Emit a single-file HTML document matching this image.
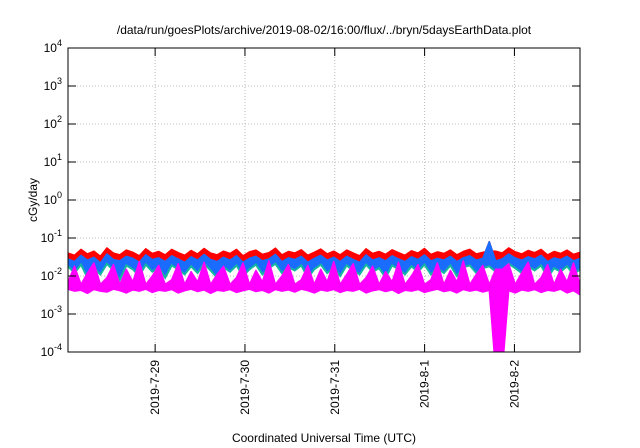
<!DOCTYPE html>
<html><head><meta charset="utf-8"><style>
body{margin:0;background:#fff}
svg{display:block;font-family:"Liberation Sans",sans-serif}
</style></head><body>
<svg id="chart" width="640" height="448" viewBox="0 0 640 448">
<rect x="0" y="0" width="640" height="448" fill="#fff"/>
<text x="324" y="34" font-size="12" text-anchor="middle">/data/run/goesPlots/archive/2019-08-02/16:00/flux/../bryn/5daysEarthData.plot</text>
<text transform="translate(37,200) rotate(-90)" font-size="12" text-anchor="middle">cGy/day</text>
<text x="324" y="442" font-size="12" text-anchor="middle">Coordinated Universal Time (UTC)</text>
<defs><clipPath id="pc"><rect x="68" y="48" width="512" height="304"/></clipPath></defs>
<g id="grid"></g><g id="series" clip-path="url(#pc)"></g><g id="axes"></g>
</svg>
<script>
const yTickExps=[-4,-3,-2,-1,0,1,2,3,4];
const xTickLabels=["2019-7-29","2019-7-30","2019-7-31","2019-8-1","2019-8-2"];
const xTickDays=[1,2,3,4,5];
const xStartDay=0.03, xEndDay=5.73;
const red=[0.040,0.035,0.050,0.038,0.045,0.033,0.055,0.040,0.036,0.048,0.042,0.034,0.052,0.039,0.044,0.036,0.050,0.041,0.035,0.047,0.038,0.053,0.040,0.036,0.045,0.039,0.050,0.034,0.043,0.048,0.037,0.041,0.054,0.036,0.044,0.040,0.049,0.035,0.042,0.051,0.038,0.045,0.036,0.048,0.040,0.034,0.052,0.039,0.044,0.037,0.049,0.041,0.035,0.046,0.040,0.053,0.037,0.043,0.039,0.048,0.036,0.044,0.050,0.038,0.042,0.046,0.045,0.040,0.055,0.043,0.038,0.047,0.041,0.050,0.036,0.044,0.039,0.048,0.037,0.042];
const blue=[0.028,0.024,0.035,0.026,0.031,0.022,0.038,0.027,0.025,0.033,0.029,0.023,0.036,0.027,0.030,0.024,0.034,0.028,0.023,0.032,0.026,0.037,0.027,0.024,0.031,0.026,0.034,0.023,0.029,0.033,0.025,0.028,0.037,0.024,0.030,0.027,0.033,0.023,0.029,0.035,0.026,0.031,0.024,0.033,0.027,0.023,0.036,0.026,0.030,0.025,0.034,0.028,0.024,0.032,0.027,0.036,0.025,0.029,0.026,0.033,0.024,0.030,0.034,0.026,0.029,0.080,0.025,0.028,0.038,0.030,0.026,0.032,0.028,0.035,0.024,0.030,0.027,0.033,0.025,0.029];
const teal=[0.018,0.012,0.020,0.009,0.016,0.011,0.021,0.014,0.008,0.019,0.015,0.010,0.020,0.013,0.017,0.009,0.019,0.015,0.011,0.018,0.012,0.021,0.014,0.009,0.017,0.013,0.019,0.010,0.015,0.020,0.011,0.016,0.021,0.012,0.017,0.014,0.019,0.009,0.015,0.020,0.012,0.017,0.010,0.019,0.014,0.011,0.020,0.013,0.016,0.009,0.019,0.015,0.011,0.018,0.013,0.020,0.011,0.016,0.012,0.019,0.010,0.017,0.019,0.012,0.016,0.018,0.013,0.014,0.021,0.016,0.012,0.018,0.014,0.019,0.009,0.016,0.013,0.018,0.011,0.015];
const magenta=[0.007,0.018,0.006,0.012,0.022,0.006,0.009,0.020,0.006,0.015,0.007,0.024,0.006,0.010,0.019,0.006,0.008,0.021,0.006,0.013,0.007,0.023,0.006,0.011,0.018,0.006,0.009,0.022,0.006,0.014,0.007,0.025,0.006,0.010,0.020,0.006,0.008,0.019,0.006,0.015,0.007,0.024,0.006,0.011,0.021,0.006,0.009,0.018,0.006,0.013,0.007,0.023,0.006,0.010,0.020,0.006,0.008,0.022,0.006,0.014,0.007,0.025,0.006,0.011,0.019,0.006,0.0001,0.0001,0.021,0.006,0.012,0.023,0.006,0.009,0.020,0.006,0.015,0.007,0.022,0.006];
const magentaLow=[0.0045,0.0040,0.0042,0.0035,0.0044,0.0040,0.0038,0.0045,0.0041,0.0036,0.0043,0.0040,0.0045,0.0037,0.0042,0.0040,0.0044,0.0036,0.0041,0.0045,0.0039,0.0043,0.0035,0.0042,0.0040,0.0044,0.0037,0.0041,0.0045,0.0039,0.0042,0.0036,0.0044,0.0040,0.0043,0.0038,0.0045,0.0041,0.0036,0.0043,0.0040,0.0044,0.0037,0.0042,0.0040,0.0045,0.0036,0.0041,0.0044,0.0039,0.0043,0.0035,0.0042,0.0040,0.0044,0.0037,0.0041,0.0045,0.0039,0.0042,0.0036,0.0044,0.0040,0.0043,0.0038,0.0042,0.0001,0.0001,0.0041,0.0036,0.0043,0.0040,0.0044,0.0037,0.0042,0.0040,0.0045,0.0036,0.0041,0.0032];
const L=68,R=580,T=48,B=352;
const ns="http://www.w3.org/2000/svg";
function X(d){return L+(d-xStartDay)/(xEndDay-xStartDay)*(R-L);}
function Y(v){return B-(Math.log10(v)+4)/8*(B-T);}
function mk(t,a,p){const e=document.createElementNS(ns,t);for(const k in a)e.setAttribute(k,a[k]);p.appendChild(e);return e;}
const grid=document.getElementById('grid'),axes=document.getElementById('axes'),ser=document.getElementById('series');
yTickExps.forEach(ex=>{const y=Y(Math.pow(10,ex));
 if(ex>-4&&ex<4){const g=mk('line',{x1:L,x2:R,y1:y,y2:y,stroke:'#bbb','stroke-dasharray':'1,2'},grid);
 
 }
 mk('line',{x1:L,x2:L+8,y1:y,y2:y,stroke:'#000'},axes);mk('line',{x1:R,x2:R-8,y1:y,y2:y,stroke:'#000'},axes);
 const t=mk('text',{x:L-6,y:y+4,'font-size':12,'text-anchor':'end'},axes);
 
 
 t.textContent='10';const s=mk('tspan',{dy:-6,'font-size':9},t);s.textContent=String(ex);});
xTickDays.forEach((d,i)=>{const x=X(d);
 const g=mk('line',{x1:x,x2:x,y1:T,y2:B,stroke:'#bbb','stroke-dasharray':'1,2'},grid);
 
 
 mk('line',{x1:x,x2:x,y1:B,y2:B-8,stroke:'#000'},axes);mk('line',{x1:x,x2:x,y1:T,y2:T+8,stroke:'#000'},axes);
 const t=mk('text',{transform:`translate(${x+4},${B+8}) rotate(-90)`,'font-size':12,'text-anchor':'end'},axes);
 
 
 t.textContent=xTickLabels[i];});
const fr=mk('rect',{x:L,y:T,width:R-L,height:B-T,fill:'none',stroke:'#000','stroke-width':1},axes);


function px(arr,i){return X(xStartDay+i/(arr.length-1)*(xEndDay-xStartDay));}
function band(top,bot){
 const a=top.map((v,i)=>px(top,i).toFixed(1)+','+Y(v).toFixed(1));
 const b=bot.map((v,i)=>px(bot,i).toFixed(1)+','+(v<=0.0001?B+20:Y(v)).toFixed(1)).reverse();
 return a.concat(b).join(' ');}
const rb=mk('polygon',{points:band(red,blue),fill:'#ff0000',stroke:'#ff0000','stroke-width':1.5,'stroke-linejoin':'round'},ser);


const bb=mk('polygon',{points:band(blue,teal),fill:'#1a6cff',stroke:'#1a6cff','stroke-width':1.5,'stroke-linejoin':'round'},ser);


const tl=mk('polyline',{points:teal.map((v,i)=>px(teal,i).toFixed(1)+','+Y(v).toFixed(1)).join(' '),fill:'none',stroke:'#14b8a0','stroke-width':2},ser);


const mb=mk('polygon',{points:band(magenta.map(v=>v<=0.0001?0.015:v),magentaLow),fill:'#ff00ff',stroke:'#ff00ff','stroke-width':1.5,'stroke-linejoin':'round'},ser);


</script>
</body></html>
